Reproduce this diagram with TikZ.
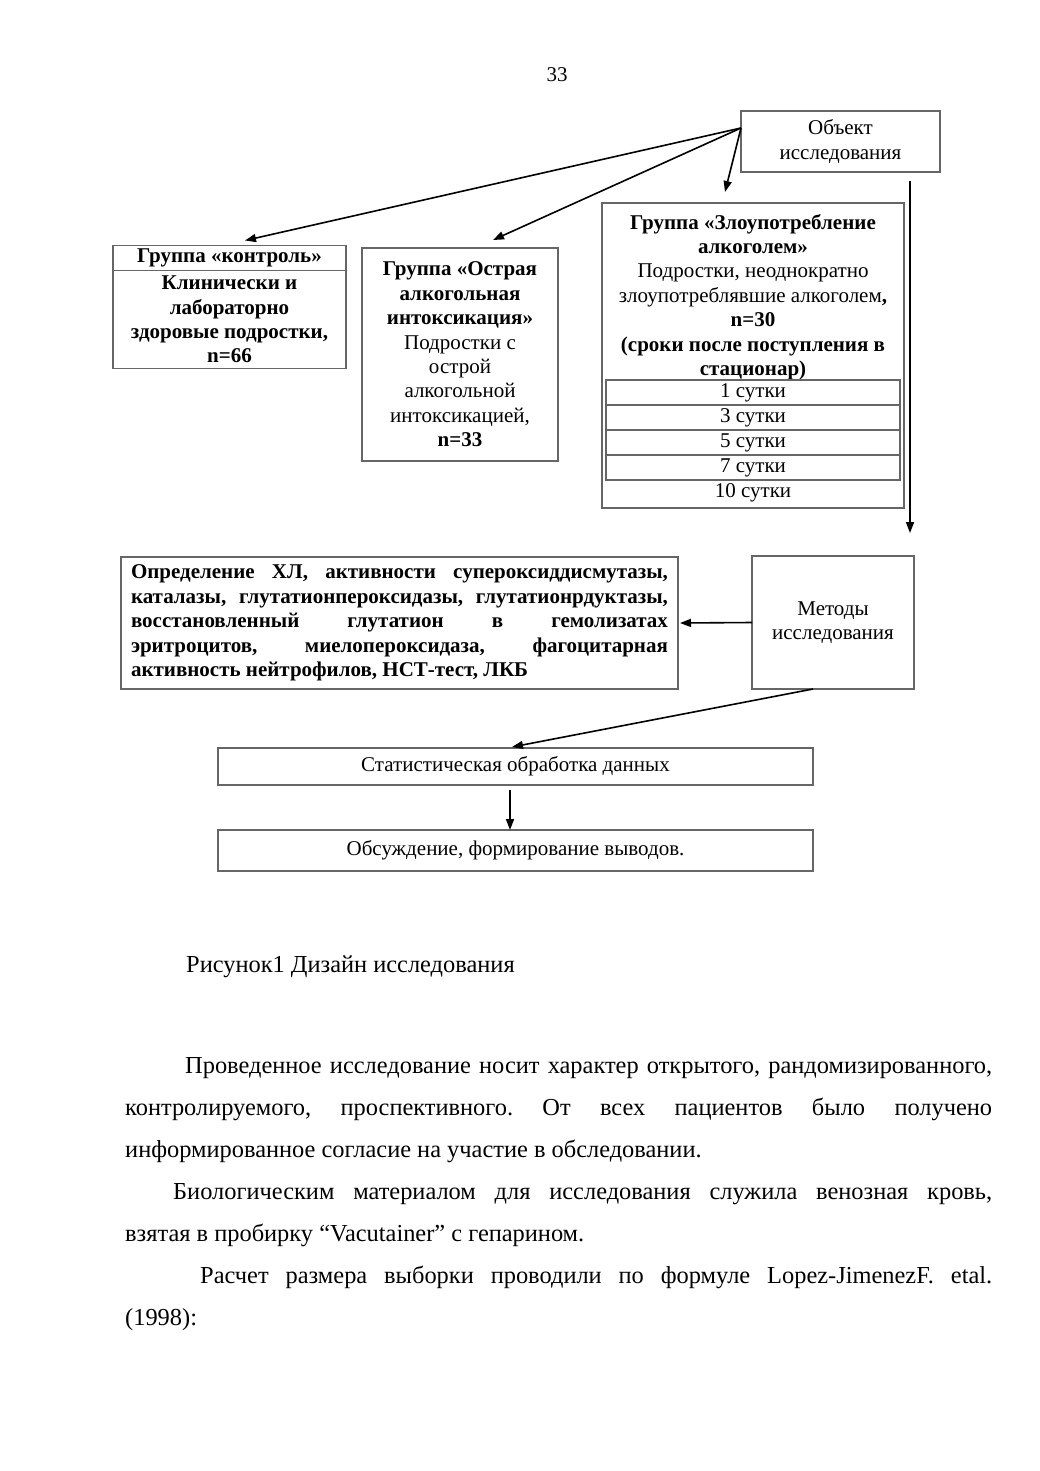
\documentclass[tikz,border=0pt]{standalone}
\usepackage{fontspec}
\setmainfont{Liberation Serif}
\usetikzlibrary{arrows.meta}
\newcommand\dgfont{\fontsize{21}{24.4}\selectfont}
\newcommand\bodyfont{\fontsize{24.4}{42}\selectfont}
\frenchspacing
\begin{document}
\begin{tikzpicture}[x=1pt,y=-1pt,
  box/.style={draw=black!60, line width=1.1pt, inner sep=0pt, outer sep=0pt, align=center, font=\dgfont},
  conn/.style={draw=black, line width=1.6pt, -{Triangle[length=11pt,width=8pt]}},
  plain/.style={inner sep=0pt, outer sep=0pt, font=\dgfont, align=center}]
\fill[white] (0,0) rectangle (1040,1471);
\useasboundingbox (0,0) rectangle (1040,1471);

\node[plain] (pnum) at (557,75) {33};

% top
\node[box, minimum width=199, minimum height=61] (obj) at (840.5,141.5) {Объект\\исследования};

\node[box, minimum width=233, minimum height=25, font=\dgfont\bfseries] (ctrlh) at (229.5,258) {Группа «контроль»};
\node[box, minimum width=233, minimum height=98, font=\dgfont\bfseries, anchor=north] (ctrl) at (ctrlh.south) {Клинически и\\лабораторно\\здоровые подростки,\\n=66};

\node[box, minimum width=196, minimum height=213] (acute) at (460,354.5) {\textbf{Группа «Острая}\\\textbf{алкогольная}\\\textbf{интоксикация»}\\Подростки с\\острой\\алкогольной\\интоксикацией,\\\textbf{n=33}};

\node[box, minimum width=302, minimum height=305] (abuse) at (753,355.5) {};
\node[plain] (abuseh) at (753,297) {\textbf{Группа «Злоупотребление}\\\textbf{алкоголем»}\\Подростки, неоднократно\\злоупотреблявшие алкоголем\textbf{,}\\\textbf{n=30}\\\textbf{(сроки после поступления в}\\\textbf{стационар)}};
\node[box, minimum width=294, minimum height=25, anchor=north] (d1) at (753,380) {1 сутки};
\node[box, minimum width=294, minimum height=25, anchor=north] (d3) at (d1.south) {3 сутки};
\node[box, minimum width=294, minimum height=25, anchor=north] (d5) at (d3.south) {5 сутки};
\node[box, minimum width=294, minimum height=25, anchor=north] (d7) at (d5.south) {7 сутки};
\node[plain] (d10) at (753,493) {10 сутки};

\coordinate (objsrc) at ([yshift=13.5pt]obj.west);
\coordinate (ctrltip) at ([xshift=15.5pt,yshift=5pt]ctrlh.north);
\coordinate (acutetip) at ([xshift=33pt,yshift=8pt]acute.north);
\coordinate (abusetip) at ([xshift=-28pt,yshift=11pt]abuse.north);
\draw[conn] (objsrc) -- (ctrltip);
\draw[conn] (objsrc) -- (acutetip);
\draw[conn] (objsrc) -- (abusetip);

% methods
\node[box, minimum width=162, minimum height=133] (meth) at (833,622.5) {Методы\\исследования};
\node[box, minimum width=557, minimum height=132, text width=537, align=justify, font=\dgfont\bfseries] (det) at (399.5,623) {\hyphenpenalty=10000 Определение ХЛ, активности супероксиддисмутазы,\linebreak каталазы, глутатионпероксидазы, глутатионрдуктазы,\linebreak восстановленный глутатион в гемолизатах\linebreak эритроцитов, миелопероксидаза, фагоцитарная\linebreak активность нейтрофилов, НСТ-тест, ЛКБ};

\coordinate (vtop) at ([xshift=69.5pt,yshift=-9pt]obj.south);
\coordinate (vbot) at ([xshift=77pt,yshift=23pt]meth.north);
\draw[conn] (vtop) -- (vbot);
\draw[conn] (meth.west) -- ([xshift=2pt]det.east);

\node[box, minimum width=595, minimum height=37] (stat) at (515.5,766.5) {Статистическая обработка данных};
\node[box, minimum width=595, minimum height=41] (disc) at (515.5,850.5) {Обсуждение, формирование выводов.};
\draw[conn] ([xshift=-20pt]meth.south) -- ([xshift=-3.5pt,yshift=1pt]stat.north);
\draw[conn] ([xshift=-5.5pt,yshift=-5pt]stat.south) -- ([xshift=-5.5pt]disc.north);

% text
\node[anchor=base west, inner sep=0pt, font=\bodyfont] (cap) at (186,972) {Рисунок1 Дизайн исследования};
\node[anchor=base west, inner sep=0pt, text width=867, align=justify, font=\bodyfont] (body) at (125,1073) {\hyphenpenalty=10000 \exhyphenpenalty=10000
\hspace*{60pt}Проведенное исследование носит характер открытого, рандомизированного,\linebreak контролируемого, проспективного. От всех пациентов было получено\linebreak информированное согласие на участие в обследовании.\par
\hspace*{48pt}Биологическим материалом для исследования служила венозная кровь,\linebreak взятая в пробирку “Vacutainer” с гепарином.\par
\hspace*{75pt}Расчет размера выборки проводили по формуле Lopez-JimenezF. etal.\linebreak (1998):};
\end{tikzpicture}
\end{document}
